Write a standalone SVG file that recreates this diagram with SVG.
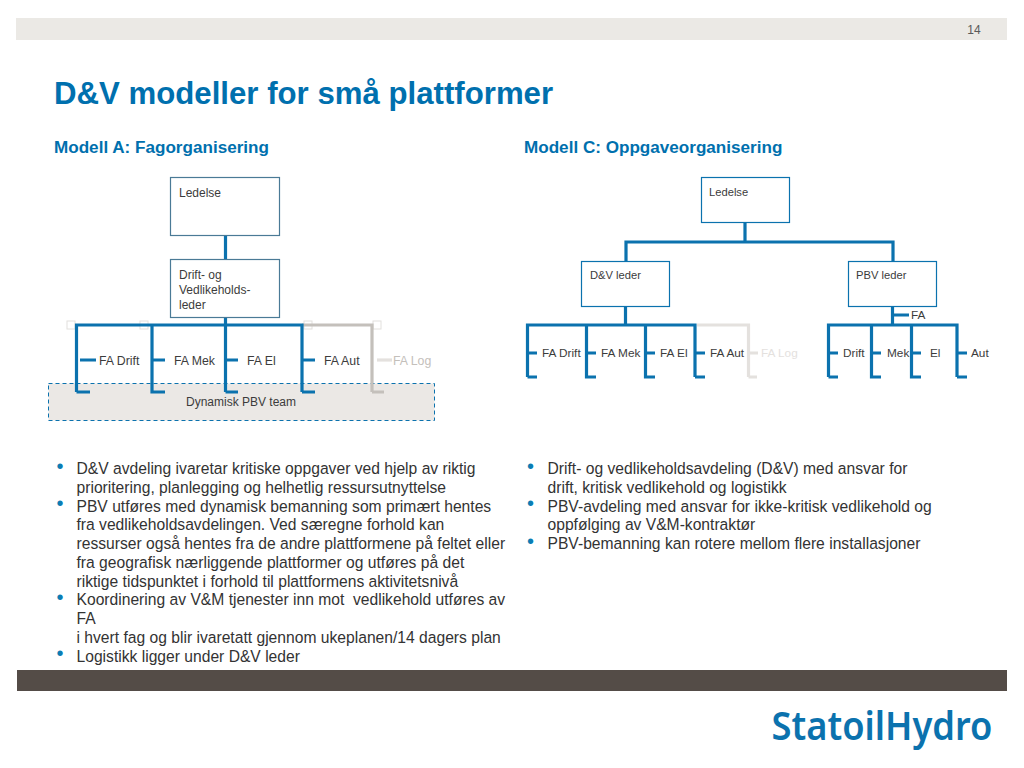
<svg xmlns="http://www.w3.org/2000/svg" width="1024" height="768" viewBox="0 0 1024 768">
<style>
text{font-family:"Liberation Sans",Arial,sans-serif;fill:#3c3c3c}
.b{fill:none;stroke:#0b72ae;stroke-width:3.2}
.g{fill:none;stroke:#c4c0bb;stroke-width:3.2}
.lg{fill:none;stroke:#e4e1de;stroke-width:3.2}
.box{fill:#fff;stroke:#0b72ae;stroke-width:1.2}
.boxa{fill:#fff;stroke:#4a7a96;stroke-width:1.2}
.h{fill:#fff;stroke:#e2e0dd;stroke-width:1}
.l{font-size:12px}
.lf{font-size:12.3px}
.r{font-size:11.8px}
.rb{font-size:11.2px}
.t{font-size:15.65px;fill:#333;white-space:pre}
.dot{font-size:20px;fill:#0b7db4;text-anchor:middle}
.sub{font-size:17.1px;font-weight:bold;fill:#0070ae}
</style>
<rect x="16" y="18" width="991" height="22" fill="#ebe9e5"/>
<text x="974" y="34" text-anchor="middle" style="font-size:12px;fill:#5a5a5a">14</text>
<text x="54" y="104" style="font-size:31.2px;font-weight:bold;fill:#0070ae">D&amp;V modeller for små plattformer</text>
<text x="54" y="153" class="sub">Modell A: Fagorganisering</text>
<text x="524" y="153" class="sub">Modell C: Oppgaveorganisering</text>

<rect id="pbv-team" x="48.500" y="383.500" width="386" height="37" fill="#ebe8e5" stroke="#0b72ae" stroke-width="1" stroke-dasharray="4 3"/>
<g id="handles">
<rect class="h" x="67" y="321" width="8" height="8"/><rect class="h" x="140" y="321" width="8" height="8"/><rect class="h" x="304" y="321" width="8" height="8"/><rect class="h" x="373" y="321" width="8" height="8"/>
</g>
<g id="connectors">
<path class="g" d="M302 325H372V392M372 392H384"/>
<path class="lg" d="M377 360H392"/>
<path class="b" d="M225.500 235V259M225.500 317V392M225.500 360H238M225.500 392H238M76.500 392V325H302V392M76.500 392H90M80 360H96M152 325V392H165M152 360H165M302 360H315M302 392H315"/>
<path class="lg" d="M697 325H748.500V377M748.500 377H757M748.500 353H758"/>
<path class="b" d="M745 223V242M626 262V242H893V262M625.500 307V325M527.500 377V325H695V377M527.500 377H537M529 353H537M586.500 325V377H596M586.500 353H596M645.500 325V377H655M645.500 353H655M695 377H705M695 353H705"/>
<path class="b" d="M892.500 307V325M892.500 315H909M828.500 377V325H957V377M828.500 377H838M828.500 353H838M871.500 325V377H881M871.500 353H881M911.500 325V377H921M911.500 353H921M957 377H967M957 353H967"/>
</g>

<g id="a-ledelse"><rect class="boxa" x="170.500" y="177.500" width="109" height="58"/><text class="l" x="179" y="197">Ledelse</text></g>
<g id="a-drift"><rect class="boxa" x="170.500" y="259.500" width="109" height="58"/><text class="l" x="179" y="279">Drift- og</text><text class="l" x="179" y="294">Vedlikeholds-</text><text class="l" x="179" y="309">leder</text></g>
<g id="a-labels">
<text class="lf" x="99" y="365">FA Drift</text><text class="lf" x="174" y="365">FA Mek</text><text class="lf" x="247" y="365">FA El</text><text class="lf" x="324" y="365">FA Aut</text><text class="lf" x="393" y="365" style="fill:#c4c0bb">FA Log</text>
<text class="l" x="186" y="406">Dynamisk PBV team</text>
</g>

<g id="c-ledelse"><rect class="box" x="701.500" y="177.500" width="88" height="45"/><text class="rb" x="709" y="196">Ledelse</text></g>
<g id="c-dv"><rect class="box" x="581.500" y="261.500" width="88" height="45"/><text class="rb" x="590" y="279">D&amp;V leder</text></g>
<g id="c-pbv"><rect class="box" x="848.500" y="261.500" width="88" height="45"/><text class="rb" x="856" y="279">PBV leder</text></g>
<g id="c-labels">
<text class="r" x="542" y="357">FA Drift</text><text class="r" x="601" y="357">FA Mek</text><text class="r" x="660" y="357">FA El</text><text class="r" x="710" y="357">FA Aut</text><text class="r" x="761" y="357" style="fill:#e4e1de">FA Log</text>
<text class="r" x="843" y="357">Drift</text><text class="r" x="887" y="357">Mek</text><text class="r" x="930" y="357">El</text><text class="r" x="971" y="357">Aut</text><text class="r" x="911" y="319">FA</text>
</g>

<g id="text-a">
<text class="dot" x="60" y="473">•</text><text class="dot" x="60" y="510">•</text><text class="dot" x="60" y="604">•</text><text class="dot" x="60" y="660">•</text>
<text class="t" x="76.500" y="474">D&amp;V avdeling ivaretar kritiske oppgaver ved hjelp av riktig</text>
<text class="t" x="76.500" y="492.800">prioritering, planlegging og helhetlig ressursutnyttelse</text>
<text class="t" x="76.500" y="511.500">PBV utføres med dynamisk bemanning som primært hentes</text>
<text class="t" x="76.500" y="530.300">fra vedlikeholdsavdelingen. Ved særegne forhold kan</text>
<text class="t" x="76.500" y="549">ressurser også hentes fra de andre plattformene på feltet eller</text>
<text class="t" x="76.500" y="567.800">fra geografisk nærliggende plattformer og utføres på det</text>
<text class="t" x="76.500" y="586.600">riktige tidspunktet i forhold til plattformens aktivitetsnivå</text>
<text class="t" x="76.500" y="605.400">Koordinering av V&amp;M tjenester inn mot  vedlikehold utføres av</text>
<text class="t" x="76.500" y="624.100">FA</text>
<text class="t" x="76.500" y="642.900">i hvert fag og blir ivaretatt gjennom ukeplanen/14 dagers plan</text>
<text class="t" x="76.500" y="661.700">Logistikk ligger under D&amp;V leder</text>
</g>
<g id="text-c">
<text class="dot" x="530.500" y="473">•</text><text class="dot" x="530.500" y="510">•</text><text class="dot" x="530.500" y="548">•</text>
<text class="t" x="547.500" y="474">Drift- og vedlikeholdsavdeling (D&amp;V) med ansvar for</text>
<text class="t" x="547.500" y="492.800">drift, kritisk vedlikehold og logistikk</text>
<text class="t" x="547.500" y="511.500">PBV-avdeling med ansvar for ikke-kritisk vedlikehold og</text>
<text class="t" x="547.500" y="530.300">oppfølging av V&amp;M-kontraktør</text>
<text class="t" x="547.500" y="549">PBV-bemanning kan rotere mellom flere installasjoner</text>
</g>
<rect x="17" y="670" width="990" height="21" fill="#544c47"/>
<text x="771.500" y="739.500" textLength="221" lengthAdjust="spacingAndGlyphs" style="font-family:'Noto Sans',sans-serif;font-size:39.7px;font-weight:600;fill:#0b72ae">StatoilHydro</text>
</svg>
